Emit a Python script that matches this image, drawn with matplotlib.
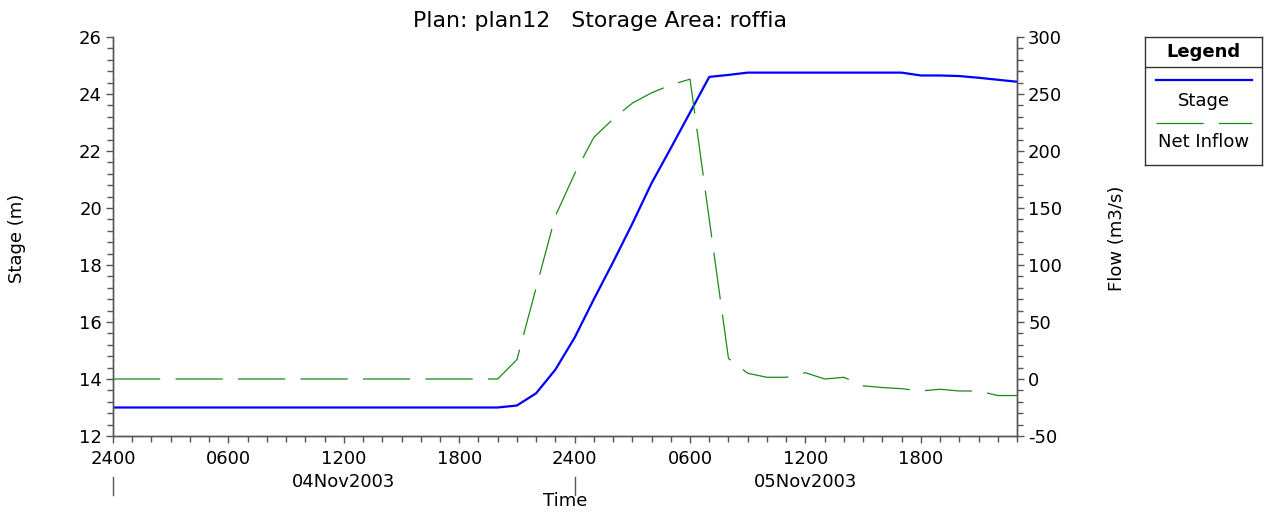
import matplotlib
matplotlib.use("Agg")
import matplotlib.pyplot as plt
from matplotlib.ticker import MultipleLocator, FixedLocator
from matplotlib.lines import Line2D

plt.rcParams['font.family'] = ['DejaVu Sans']
plt.rcParams['lines.scale_dashes'] = False
plt.rcParams['axes.unicode_minus'] = False

# ---- data (hourly, hour 0 = 04Nov2003 00:00) ----
hours = list(range(48))
stage = [13.0] * 21 + [13.07, 13.5, 14.33, 15.45, 16.8, 18.1, 19.45, 20.87, 22.1, 23.35,
                       24.6, 24.67, 24.75, 24.75, 24.75, 24.75, 24.75, 24.75, 24.75, 24.75,
                       24.75, 24.65, 24.65, 24.63, 24.57, 24.5, 24.43]
net_inflow = [0.0] * 21 + [17, 80, 143, 180, 212, 228, 242, 251, 258, 263,
                           140, 18, 5, 1.5, 1.5, 5.5, 0, 1.5, -6, -7.5,
                           -8.5, -10.5, -9, -10.5, -10.5, -14.5, -14.5]
tick_hours = [0, 6, 12, 18, 24, 30, 36, 42]
tick_labels = ["2400", "0600", "1200", "1800", "2400", "0600", "1200", "1800"]
day_hours = [12, 36]
day_labels = ["04Nov2003", "05Nov2003"]
day_breaks = [0, 24]

title = "Plan: plan12   Storage Area: roffia"

W, H = 1268, 513
fig = plt.figure(figsize=(W / 100, H / 100), dpi=100)
x0, x1, ytop, ybot = 113, 1017, 37, 436
ax = fig.add_axes([x0 / W, 1 - ybot / H, (x1 - x0) / W, (ybot - ytop) / H])
ax2 = ax.twinx()

axis_col = '#555555'
stage_col = '#0000ff'
flow_col = '#1a8a1a'
fs = 13

ax.plot(hours, stage, color=stage_col, lw=1.6, zorder=3)
ax2.plot(hours, net_inflow, color=flow_col, lw=0.9, dashes=(34, 11))

ax.set_xlim(0, 47)
ax.set_ylim(12, 26)
ax2.set_ylim(-50, 300)

ax.xaxis.set_major_locator(FixedLocator(tick_hours))
ax.set_xticklabels(tick_labels)
ax.xaxis.set_minor_locator(MultipleLocator(1))
ax.yaxis.set_major_locator(MultipleLocator(2))
ax.yaxis.set_minor_locator(MultipleLocator(0.4))
ax2.yaxis.set_major_locator(MultipleLocator(50))
ax2.yaxis.set_minor_locator(MultipleLocator(10))

for a in (ax, ax2):
    a.spines['top'].set_visible(False)
    for s in a.spines.values():
        s.set_color(axis_col)
        s.set_linewidth(1.0)
    a.tick_params(which='major', length=5, width=1.0, color=axis_col, labelsize=fs, pad=3)
    a.tick_params(which='minor', length=4, width=1.0, color=axis_col)
ax.tick_params(axis='x', which='major', pad=5)

# day labels and day separators
for h, lab in zip(day_hours, day_labels):
    ax.text(h, -0.092, lab, transform=ax.get_xaxis_transform(), ha='center', va='top', fontsize=fs)
for h in day_breaks:
    ax.plot([h, h], [-0.103, -0.148], transform=ax.get_xaxis_transform(), color=axis_col,
            lw=1.0, clip_on=False)

fig.text(565 / W, 1 - 501 / H, "Time", ha='center', va='center', fontsize=fs)
fig.text(17 / W, 1 - 238 / H, "Stage (m)", rotation=90, ha='center', va='center', fontsize=fs)
fig.text(1117 / W, 1 - 238 / H, "Flow (m3/s)", rotation=90, ha='center', va='center', fontsize=fs)
fig.text(600 / W, 1 - 21 / H, title, ha='center', va='center', fontsize=15.8)

# legend box
lx0, lx1, ly0, ly1 = 1145, 1262, 37, 165
lax = fig.add_axes([lx0 / W, 1 - ly1 / H, (lx1 - lx0) / W, (ly1 - ly0) / H])
lax.set_xlim(lx0, lx1)
lax.set_ylim(ly1, ly0)
lax.set_xticks([])
lax.set_yticks([])
for s in lax.spines.values():
    s.set_color('#333333')
    s.set_linewidth(1.0)
lax.add_line(Line2D([lx0, lx1], [67, 67], color='#333333', lw=1.0))
lax.text((lx0 + lx1) / 2, 52, "Legend", ha='center', va='center', fontsize=fs, fontweight='bold')
lax.add_line(Line2D([1156, 1252], [80, 80], color=stage_col, lw=1.6))
lax.text((lx0 + lx1) / 2, 101, "Stage", ha='center', va='center', fontsize=fs)
lax.add_line(Line2D([1156, 1252], [123, 123], color=flow_col, lw=0.9, dashes=(34, 11)))
lax.text((lx0 + lx1) / 2, 142, "Net Inflow", ha='center', va='center', fontsize=fs)

fig.savefig("out.png", dpi=100)
